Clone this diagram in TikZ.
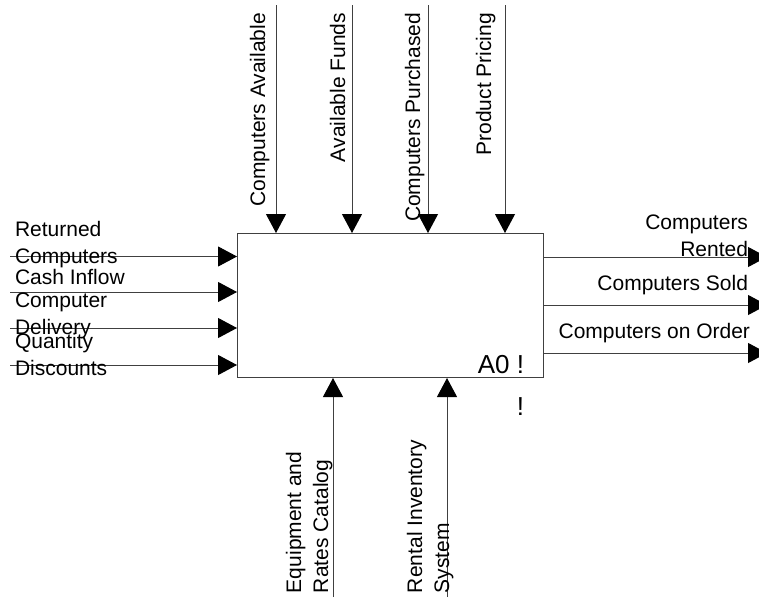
\documentclass[tikz,border=0pt]{standalone}
\usepackage{fontspec}
\setmainfont{Liberation Sans}
\usetikzlibrary{arrows.meta}

\def\linecol{black!75}
\tikzset{
  flow/.style={draw=\linecol, line width=1pt, -{Triangle[length=19pt,width=20pt,black]}},
  lbl/.style={inner sep=0, outer sep=0},
  boxnum/.style={lbl, font=\fontsize{26}{30}\selectfont},
}
% input from the left edge into the box
\newcommand\inflow[2]{%
    \coordinate (#1) at (10,#2);
    \draw [flow] (#1) -- (#1 -| a0.west);
}
% control from the top
\newcommand\ctlflow[2]{%
    \coordinate (#1) at (#2,5);
    \draw [flow] (#1) -- (#1 |- a0.north);
}
% mechanism from the bottom
\newcommand\mechflow[2]{%
    \coordinate (#1) at (#2,597);
    \draw [flow] (#1) -- (#1 |- a0.south);
}
% output to the right edge
\newcommand\outflow[2]{%
    \coordinate (#1) at (767,#2);
    \draw [flow] (#1 -| a0.east) -- (#1);
}

\begin{document}
\begin{tikzpicture}[x=1pt, y=-1pt, font=\fontsize{21}{27}\selectfont]
\useasboundingbox (0,0) rectangle (759,597);

% Activity box
\node (a0) [draw=\linecol, line width=1pt, minimum width=306pt, minimum height=144pt, inner sep=0, anchor=north west] at (237,233) {};
\node (a0num) [boxnum, anchor=base east] at (524,373) {A0 !};
\node (bang)  [boxnum, anchor=base east] at (524,415) {!};

% Inputs (base = last line)
    \inflow{ret}{256.5}
    \inflow{cash}{292}
    \inflow{deliv}{328}
    \inflow{disc}{365}
    \node (retlbl)   [lbl, align=left, anchor=base west] at (15,263) {Returned\\Computers};
    \node (cashlbl)  [lbl, anchor=base west]             at (15,284) {Cash Inflow};
    \node (delivlbl) [lbl, align=left, anchor=base west] at (15,334) {Computer\\Delivery};
    \node (disclbl)  [lbl, align=left, anchor=base west] at (15,375) {Quantity\\Discounts};

% Controls
    \ctlflow{avail}{276}
    \ctlflow{funds}{352}
    \ctlflow{purch}{428}
    \ctlflow{pricing}{505}
    \node (availlbl)   [lbl, rotate=90, anchor=base east] at (265,13) {Computers Available};
    \node (fundslbl)   [lbl, rotate=90, anchor=base east] at (345,13) {Available Funds};
    \node (purchlbl)   [lbl, rotate=90, anchor=base east] at (420,13) {Computers Purchased};
    \node (pricinglbl) [lbl, rotate=90, anchor=base east] at (491,13) {Product Pricing};

% Outputs
    \outflow{rented}{257}
    \outflow{sold}{305}
    \outflow{order}{353}
    \node (rentedlbl) [lbl, align=right, anchor=base east] at (748,256) {Computers\\Rented};
    \node (soldlbl)   [lbl, anchor=base east]              at (748,290) {Computers Sold};
    \node (orderlbl)  [lbl, anchor=base east]              at (750,338) {Computers on Order};

% Mechanisms
    \mechflow{catalog}{333}
    \mechflow{rental}{447}
    \node (cataloglbl) [lbl, rotate=90, align=left, anchor=base west] at (328,593) {Equipment and\\Rates Catalog};
    \node (rentallbl)  [lbl, rotate=90, align=left, anchor=base west] at (449,593) {Rental Inventory\\System};

\end{tikzpicture}
\end{document}
